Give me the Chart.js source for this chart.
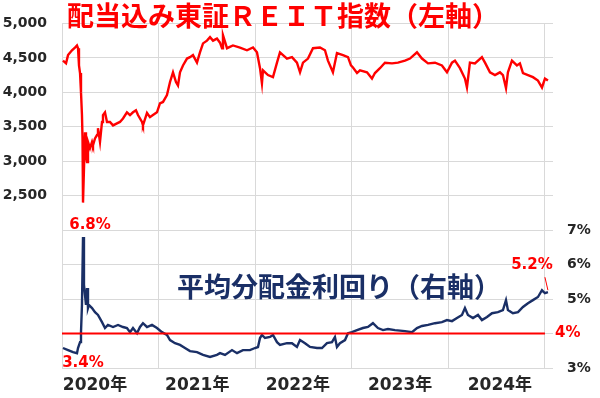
<!DOCTYPE html>
<html>
<head>
<meta charset="utf-8">
<script src="https://cdn.jsdelivr.net/npm/chart.js@4.4.1/dist/chart.umd.min.js"></script>
<style>
  html, body { margin: 0; padding: 0; background: #fff; }
  #wrap { width: 600px; height: 398px; }
</style>
</head>
<body>
<div id="wrap"><canvas id="reitChart" width="600" height="398"></canvas></div>
<script>
// months counted from the start of January 2020
var reitMonths = [0.12, 0.5, 0.75, 1.24, 1.61, 1.86, 1.99, 2.11, 2.24, 2.36, 2.48, 2.55, 2.61, 2.86, 2.98, 3.11, 3.23, 3.48, 3.73, 3.85,
  4.1, 4.35, 4.47, 4.72, 4.97, 5.09, 5.34, 5.59, 5.96, 6.34, 6.83, 7.2, 7.58, 8.07, 8.45, 8.82, 9.19, 9.44, 9.94, 10.06,
  10.56, 10.93, 11.3, 11.8, 12.17, 12.55, 13.04, 13.42, 13.79, 14.16, 14.41, 14.66, 15.03, 15.53, 15.9, 16.27, 16.77, 17.14, 17.52, 18.01,
  18.39, 18.76, 19.25, 19.63, 19.88, 20.0, 20.5, 21.24, 22.11, 22.98, 23.73, 24.22, 24.6, 24.84, 24.97, 25.59, 26.21, 26.71, 27.08, 27.95,
  28.57, 29.19, 29.57, 29.94, 30.56, 31.18, 32.05, 32.67, 33.04, 33.66, 34.16, 34.91, 35.53, 35.9, 36.15, 36.65, 37.02, 37.89, 38.51, 38.88,
  39.5, 40.12, 41.0, 41.74, 42.61, 43.23, 44.1, 44.72, 45.47, 46.34, 47.2, 47.83, 48.45, 48.82, 49.44, 50.06, 50.31, 50.68, 51.3, 52.17,
  52.55, 53.17, 53.79, 54.41, 54.78, 55.16, 55.4, 55.9, 56.52, 56.89, 57.27, 57.89, 58.51, 59.13, 59.63, 60.0, 60.37];
var reitIndex = [4460, 4420, 4540, 4610, 4650, 4680, 4640, 4390, 4280, 4000, 3670, 3330, 2400, 3420, 3090, 2990, 3280, 3190, 3280, 3230,
  3330, 3380, 3480, 3280, 3570, 3670, 3710, 3570, 3570, 3520, 3550, 3570, 3620, 3710, 3670, 3710, 3740, 3670, 3570, 3520,
  3700, 3640, 3670, 3710, 3840, 3860, 3960, 4150, 4290, 4150, 4100, 4290, 4390, 4490, 4510, 4540, 4430, 4580, 4710, 4750,
  4800, 4750, 4780, 4720, 4640, 4830, 4640, 4680, 4650, 4610, 4650, 4580, 4350, 4130, 4320, 4250, 4220, 4430, 4580, 4490,
  4510, 4430, 4290, 4430, 4490, 4640, 4650, 4610, 4460, 4290, 4570, 4540, 4510, 4390, 4360, 4280, 4320, 4290, 4200, 4280,
  4350, 4430, 4420, 4430, 4460, 4490, 4580, 4490, 4420, 4430, 4390, 4290, 4430, 4460, 4350, 4200, 4070, 4430, 4420, 4510,
  4430, 4290, 4250, 4290, 4250, 4060, 4290, 4460, 4390, 4420, 4280, 4250, 4220, 4170, 4070, 4200, 4170];

var yieldMonths = [0.12, 0.75, 1.37, 1.86, 1.99, 2.24, 2.36, 2.48, 2.61, 2.73, 2.98, 3.11, 3.23, 3.35, 3.73, 4.1, 4.47, 4.97, 5.34, 5.71,
  6.34, 6.96, 7.58, 8.07, 8.45, 8.82, 9.32, 9.69, 10.06, 10.56, 11.18, 11.8, 12.42, 13.04, 13.42, 14.04, 14.66, 15.28, 15.9, 16.77,
  17.52, 18.39, 19.25, 19.63, 20.25, 21.12, 21.74, 22.48, 23.35, 23.98, 24.35, 24.6, 24.84, 25.22, 25.84, 26.21, 26.71, 27.08, 27.95, 28.57,
  29.19, 29.57, 30.19, 30.81, 31.68, 32.3, 32.92, 33.54, 33.91, 34.16, 34.53, 35.16, 35.53, 36.02, 36.65, 37.39, 38.01, 38.63, 39.25, 39.88,
  40.5, 41.37, 42.61, 43.48, 44.1, 44.72, 45.47, 46.34, 47.2, 47.83, 48.45, 49.07, 49.69, 50.06, 50.43, 51.06, 51.68, 52.17, 52.8, 53.42,
  54.16, 54.78, 55.16, 55.4, 56.02, 56.65, 57.27, 57.89, 58.51, 59.13, 59.63, 60.0, 60.37];
var yieldPct = [3.58, 3.52, 3.46, 3.43, 3.58, 3.75, 4.04, 4.83, 6.8, 5.41, 4.83, 5.32, 4.74, 4.83, 4.74, 4.62, 4.54, 4.33, 4.16, 4.25,
  4.19, 4.25, 4.19, 4.16, 4.04, 4.16, 4.01, 4.19, 4.3, 4.19, 4.25, 4.16, 4.04, 3.96, 3.81, 3.72, 3.67, 3.58, 3.49, 3.46,
  3.38, 3.32, 3.38, 3.43, 3.38, 3.52, 3.43, 3.52, 3.52, 3.58, 3.61, 3.87, 3.96, 3.87, 3.9, 3.96, 3.75, 3.67, 3.72, 3.72,
  3.61, 3.81, 3.72, 3.61, 3.58, 3.58, 3.72, 3.75, 3.9, 3.61, 3.72, 3.81, 4.01, 4.04, 4.1, 4.16, 4.19, 4.3, 4.16, 4.1,
  4.13, 4.1, 4.07, 4.04, 4.16, 4.22, 4.25, 4.3, 4.33, 4.39, 4.36, 4.45, 4.54, 4.74, 4.54, 4.45, 4.54, 4.39, 4.48, 4.59,
  4.62, 4.68, 4.97, 4.68, 4.59, 4.62, 4.77, 4.88, 4.97, 5.06, 5.26, 5.17, 5.2];

var yearStarts = [0, 12, 24, 36, 48, 60];
var yearLabelPos = [4.1, 16.8, 29.3, 42, 54.4];
var yearLabels = ['2020年', '2021年', '2022年', '2023年', '2024年'];
var refYield = 4; // 4% reference line
var refLineEnd = 60;

var RED = '#ff0000';
var NAVY = '#1a2f66';
var GRID = '#d9d9d9';
var TICK = '#262626';

function toPoints(xs, ys) {
  return xs.map(function(x, i) { return { x: x, y: ys[i] }; });
}

var annotations = {
  id: 'annotations',
  afterDatasetsDraw: function(chart) {
    var ctx = chart.ctx;
    var xs = chart.scales.x, yr = chart.scales.y1;
    ctx.save();
    ctx.textBaseline = 'middle';

    // titles
    ctx.textAlign = 'left';
    ctx.font = 'bold 27px "Noto Sans CJK JP"';
    ctx.fillStyle = RED;
    ctx.fillText('配当込み東証ＲＥＩＴ指数（左軸）', 67, 16);
    ctx.fillStyle = NAVY;
    ctx.fillText('平均分配金利回り（右軸）', 177, 287);

    ctx.font = 'bold 15px "DejaVu Sans"';
    ctx.fillStyle = RED;
    ctx.textAlign = 'center';

    // peak and early low of the yield
    var peak = 0, low = 0;
    yieldPct.forEach(function(v, i) { if (v > yieldPct[peak]) peak = i; });
    for (var i = 0; i < peak; i++) { if (yieldPct[i] < yieldPct[low]) low = i; }
    var px = xs.getPixelForValue(yieldMonths[peak]), py = yr.getPixelForValue(yieldPct[peak]);
    ctx.fillText(yieldPct[peak].toFixed(1) + '%', px + 7, py - 12);

    var lx = xs.getPixelForValue(yieldMonths[low]), ly = yr.getPixelForValue(yieldPct[low]);
    ctx.fillText(yieldPct[low].toFixed(1) + '%', lx + 6, ly + 10);

    // latest value with a leader line
    var last = yieldPct.length - 1;
    var ex = xs.getPixelForValue(yieldMonths[last]), ey = yr.getPixelForValue(yieldPct[last]);
    ctx.fillText(yieldPct[last].toFixed(1) + '%', ex - 16, ey - 27);
    ctx.strokeStyle = RED;
    ctx.lineWidth = 1;
    ctx.beginPath();
    ctx.moveTo(ex - 3, ey - 15);
    ctx.lineTo(ex, ey - 2);
    ctx.stroke();

    // 4% label on the right
    ctx.textAlign = 'left';
    ctx.fillText(refYield + '%', xs.getPixelForValue(refLineEnd) + 10, yr.getPixelForValue(refYield));
    ctx.restore();
  }
};

var allXTicks = yearStarts.concat(yearLabelPos).sort(function(a, b) { return a - b; });

var chart = new Chart(document.getElementById('reitChart').getContext('2d'), {
  type: 'line',
  data: {
    datasets: [{
      label: '4%',
      data: toPoints([0, refLineEnd], [refYield, refYield]),
      yAxisID: 'y1',
      borderColor: RED,
      borderWidth: 2,
      pointRadius: 0,
      order: 0
    }, {
      label: '配当込み東証REIT指数',
      data: toPoints(reitMonths, reitIndex),
      yAxisID: 'y',
      borderColor: RED,
      borderWidth: 2.4,
      pointRadius: 0,
      tension: 0,
      order: 1
    }, {
      label: '平均分配金利回り',
      data: toPoints(yieldMonths, yieldPct),
      yAxisID: 'y1',
      borderColor: NAVY,
      borderWidth: 2.4,
      pointRadius: 0,
      tension: 0,
      order: 2
    }]
  },
  options: {
    responsive: false,
    animation: false,
    layout: { padding: { top: 23, left: 0, right: 0, bottom: 0 } },
    plugins: {
      legend: { display: false },
      tooltip: { enabled: false }
    },
    scales: {
      x: {
        type: 'linear',
        min: 0,
        max: 61,
        afterBuildTicks: function(scale) {
          scale.ticks = allXTicks.map(function(v) { return { value: v }; });
        },
        afterFit: function(scale) { scale.height = 30; },
        border: { display: false },
        grid: {
          drawTicks: false,
          color: function(c) {
            return c.tick && yearStarts.indexOf(c.tick.value) >= 0 ? GRID : 'rgba(0,0,0,0)';
          }
        },
        ticks: {
          autoSkip: false,
          maxRotation: 0,
          padding: 7,
          color: TICK,
          font: { family: '"DejaVu Sans", "Noto Sans CJK JP"', size: 17, weight: 'bold' },
          callback: function(v) {
            var k = yearLabelPos.indexOf(v);
            return k >= 0 ? yearLabels[k] : '';
          }
        }
      },
      y: {
        position: 'left',
        min: 0,
        max: 5000,
        afterFit: function(scale) { scale.width = 62; },
        border: { display: false },
        grid: { drawTicks: false, color: GRID },
        ticks: {
          stepSize: 500,
          padding: 15,
          color: TICK,
          font: { family: '"DejaVu Sans"', size: 14, weight: 'bold' },
          callback: function(v) { return v >= 2500 ? v.toLocaleString('en-US') : ''; }
        }
      },
      y1: {
        position: 'right',
        min: 3,
        max: 13,
        afterFit: function(scale) { scale.width = 47; },
        border: { display: false },
        grid: { display: false, drawTicks: false },
        ticks: {
          stepSize: 1,
          padding: 14,
          color: TICK,
          font: { family: '"DejaVu Sans"', size: 14, weight: 'bold' },
          callback: function(v) { return (v <= 7 && v !== refYield) ? v + '%' : ''; }
        }
      }
    }
  },
  plugins: [annotations]
});
</script>
</body>
</html>
